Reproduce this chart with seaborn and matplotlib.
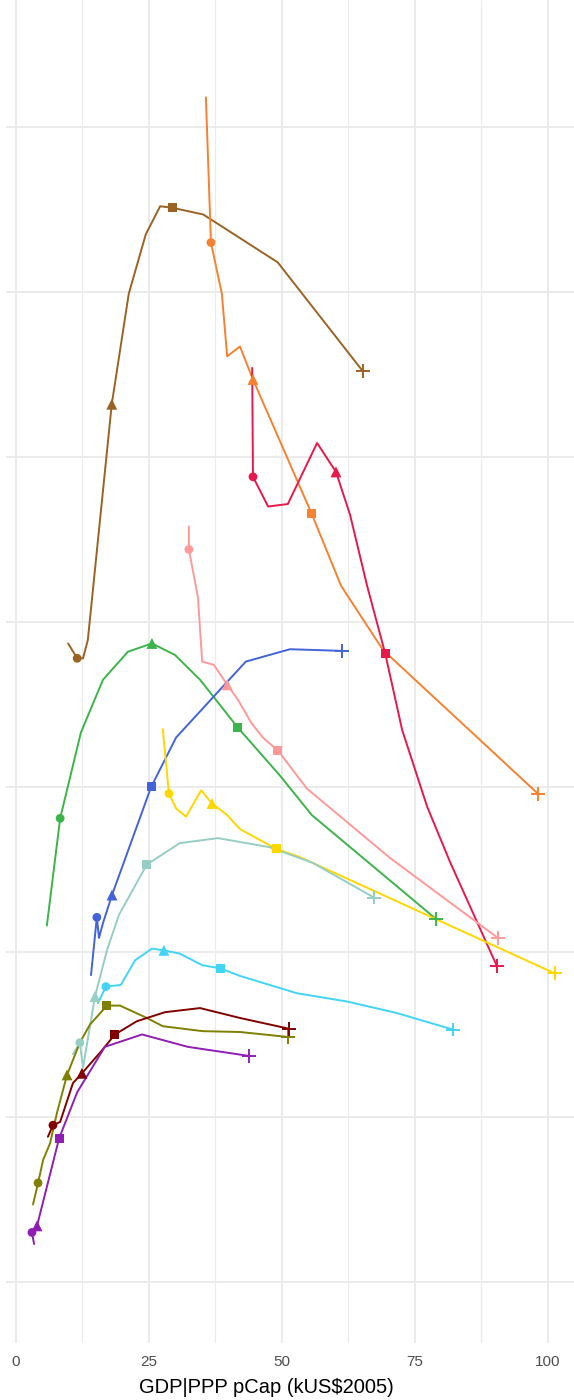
import numpy as np
import pandas as pd
import matplotlib
matplotlib.use("Agg")
import matplotlib.pyplot as plt
import seaborn as sns

# ---- data (x: GDP|PPP pCap, kUS$2005; y: unlabelled quantity) ----
series_names = ["brown", "orange", "crimson", "pink", "green", "blue",
                "yellow", "teal", "cyan", "olive", "darkred", "purple"]

brown_x = [9.8, 11.5, 12.6, 13.5, 18.0, 21.2, 24.4, 27.1, 29.5, 35.2, 49.2, 65.2]
brown_y = [38.7, 37.8, 37.8, 38.9, 53.2, 59.9, 63.5, 65.2, 65.1, 64.7, 61.8, 55.2]

orange_x = [35.7, 36.65, 38.7, 39.7, 42.1, 44.55, 55.6, 61.1, 69.0, 98.1]
orange_y = [71.8, 63.0, 59.9, 56.1, 56.7, 54.7, 46.55, 42.2, 38.3, 29.6]

crimson_x = [44.4, 44.55, 47.4, 51.1, 56.6, 60.15, 62.8, 66.0, 69.4, 72.6, 77.3, 81.6, 90.4]
crimson_y = [55.4, 48.8, 47.0, 47.15, 50.85, 49.1, 46.5, 42.2, 38.1, 33.45, 28.8, 25.45, 19.15]

pink_x = [32.5, 32.5, 34.2, 35.0, 37.2, 39.7, 41.7, 44.2, 46.4, 49.25, 54.7, 70.3, 90.6]
pink_y = [45.8, 44.4, 41.5, 37.6, 37.4, 36.2, 35.3, 33.9, 33.0, 32.2, 29.9, 25.7, 20.85]

green_x = [5.8, 8.3, 12.2, 16.35, 21.05, 25.55, 29.9, 34.6, 41.7, 49.6, 55.6, 78.95]
green_y = [21.6, 28.1, 33.3, 36.5, 38.2, 38.7, 38.0, 36.5, 33.6, 30.7, 28.3, 22.0]

blue_x = [14.1, 15.2, 15.6, 16.35, 18.05, 25.4, 30.1, 43.2, 51.5, 61.3]
blue_y = [18.6, 22.1, 20.85, 21.75, 23.45, 30.0, 33.0, 37.6, 38.35, 38.25]

yellow_x = [27.6, 28.75, 30.1, 31.95, 34.8, 36.85, 39.7, 42.1, 48.9, 53.4, 101.3]
yellow_y = [33.5, 29.6, 28.7, 28.2, 29.8, 29.0, 28.3, 27.45, 26.25, 25.75, 18.7]

teal_x = [10.7, 12.0, 12.6, 14.85, 17.1, 19.35, 24.6, 30.8, 38.0, 47.7, 55.8, 67.3]
teal_y = [13.8, 14.5, 13.0, 17.3, 20.1, 22.25, 25.3, 26.6, 26.9, 26.35, 25.4, 23.3]

cyan_x = [15.4, 16.9, 19.7, 22.4, 25.55, 27.8, 30.8, 35.0, 38.5, 42.1, 52.8, 62.2, 71.6, 82.1]
cyan_y = [16.9, 17.9, 18.0, 19.5, 20.2, 20.1, 19.9, 19.2, 19.0, 18.55, 17.5, 17.0, 16.3, 15.3]

olive_x = [3.2, 4.15, 5.1, 6.4, 7.7, 9.6, 12.0, 13.9, 17.1, 19.55, 24.6, 27.6, 35.15, 42.1, 51.1]
olive_y = [4.7, 6.0, 7.4, 8.4, 10.25, 12.55, 14.5, 15.6, 16.75, 16.75, 16.0, 15.5, 15.2, 15.15, 14.85]

darkred_x = [6.0, 6.95, 8.3, 10.7, 12.4, 15.8, 18.6, 22.7, 28.0, 34.6, 42.1, 51.3]
darkred_y = [8.8, 9.5, 9.7, 12.05, 12.65, 13.9, 15.0, 15.8, 16.35, 16.6, 16.0, 15.35]

purple_x = [3.4, 3.0, 3.95, 8.1, 11.5, 16.7, 23.7, 32.3, 43.8]
purple_y = [2.3, 3.0, 3.4, 8.7, 11.5, 14.25, 15.0, 14.25, 13.7]

xs = [brown_x, orange_x, crimson_x, pink_x, green_x, blue_x,
      yellow_x, teal_x, cyan_x, olive_x, darkred_x, purple_x]
ys = [brown_y, orange_y, crimson_y, pink_y, green_y, blue_y,
      yellow_y, teal_y, cyan_y, olive_y, darkred_y, purple_y]

# index of the circle / triangle / square markers on each series (plus = last point)
marker_idx = [[1, 4, 8], [1, 5, 6], [1, 5, 8], [1, 5, 9], [1, 5, 8], [1, 4, 5],
              [1, 5, 8], [1, 3, 6], [1, 5, 8], [1, 5, 8], [1, 4, 6], [1, 2, 3]]

x_ticks = [0, 25, 50, 75, 100]
x_label = "GDP|PPP pCap (kUS$2005)"

colors = ["#9A6324", "#F58231", "#E6194B", "#FF9999", "#3CB44B", "#4363D8",
          "#FFD700", "#96CEC4", "#42D4F4", "#808000", "#800000", "#911EB4"]

# ---- build tables ----
rows = []
mk_rows = []
for name, x, y, mi in zip(series_names, xs, ys, marker_idx):
    for i, (a, b) in enumerate(zip(x, y)):
        rows.append({"series": name, "order": i, "x": a, "y": b})
    for m, i in zip(["o", "^", "s"], mi):
        mk_rows.append({"series": name, "x": x[i], "y": y[i], "mk": m})
    mk_rows.append({"series": name, "x": x[-1], "y": y[-1], "mk": "+"})
df = pd.DataFrame(rows)
mk = pd.DataFrame(mk_rows)
pal = dict(zip(series_names, colors))

sns.set_theme(style="whitegrid")
plt.rcParams["font.family"] = ["Liberation Sans", "DejaVu Sans"]

fig = plt.figure(figsize=(5.74, 14.0), dpi=100)
ax = fig.add_axes([6 / 574, 57 / 1400, 568 / 574, 1343 / 1400])

sns.lineplot(data=df, x="x", y="y", hue="series", units="series",
             palette=pal, sort=False, estimator=None, legend=False,
             linewidth=1.4, ax=ax)

for m, size in [("o", 40), ("^", 62), ("s", 42)]:
    sub = mk[mk["mk"] == m]
    sns.scatterplot(data=sub, x="x", y="y", hue="series", marker=m,
                    palette=pal, s=size, linewidth=0, legend=False, ax=ax,
                    zorder=3)
plus = mk[mk["mk"] == "+"]
sns.scatterplot(data=plus, x="x", y="y", hue="series", marker="+",
                palette=pal, s=100, linewidth=1.4, legend=False, ax=ax, zorder=3)

ax.set_xlim(-1.88, 104.9)
ax.set_ylim(-3.70, 77.70)
ax.set_xticks(x_ticks)
ax.set_xticks([12.5, 37.5, 62.5, 87.5], minor=True)
ax.set_yticks(np.arange(0, 71, 10))
ax.set_yticklabels([])
ax.set_facecolor("white")
for s in ax.spines.values():
    s.set_visible(False)
ax.grid(True, which="major", color="#EBEBEB", linewidth=1.4)
ax.grid(True, which="minor", axis="x", color="#EBEBEB", linewidth=0.8)
ax.tick_params(axis="both", which="both", length=0)
ax.tick_params(axis="x", labelsize=11, labelcolor="#4D4D4D", pad=9)
ax.set_xlabel(x_label, fontsize=14.5, color="black")
ax.xaxis.set_label_coords(260 / 568, -35 / 1343)
ax.set_ylabel("")

fig.savefig("out.png", dpi=100, facecolor="white")
